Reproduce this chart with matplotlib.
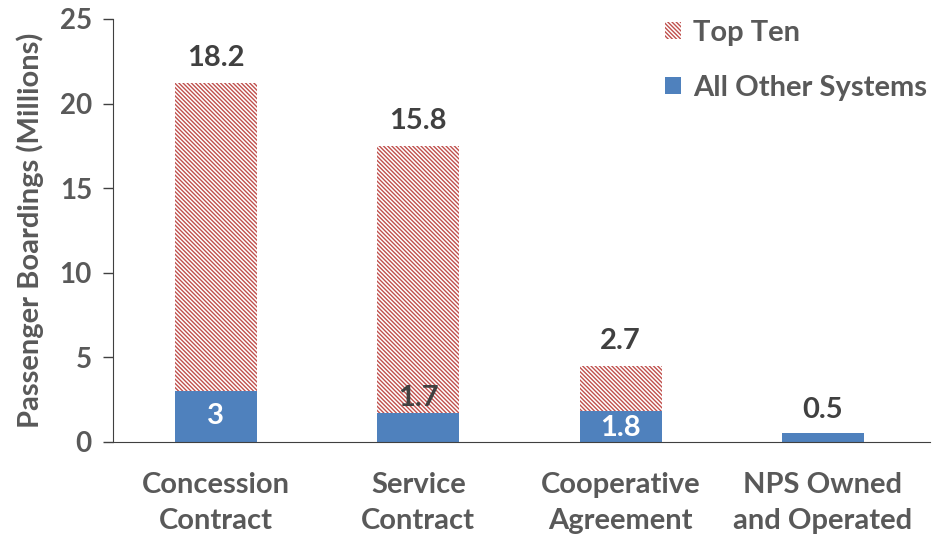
import numpy as np
import matplotlib.pyplot as plt
from matplotlib.patches import Patch

plt.rcParams['font.family'] = ['Lato', 'DejaVu Sans']
plt.rcParams['hatch.linewidth'] = 1.0

categorias = ['Concession\nContract', 'Service\nContract', 'Cooperative\nAgreement', 'NPS Owned\nand Operated']
otros = [3, 1.7, 1.8, 0.5]
top_ten = [18.2, 15.8, 2.7, 0]
etiquetas_otros = ['3', '1.7', '1.8', '0.5']
etiquetas_top = ['18.2', '15.8', '2.7', '']

gris = '#595959'
azul = '#4F81BD'
rojo = '#C0504D'
rayado = '\\' * 8

x = np.arange(len(categorias))

fig = plt.figure(figsize=(9.32, 5.42), dpi=100)
ax = fig.add_axes([0.121, 0.185, 0.877, 0.78])

ax.bar(x, otros, width=0.405, color=azul)
ax.bar(x, top_ten, width=0.405, bottom=otros, color='white', edgecolor=rojo,
       hatch=rayado, linewidth=0)

# etiquetas de arriba
for i in range(len(x)):
    total = otros[i] + top_ten[i]
    if etiquetas_top[i]:
        ax.text(x[i], total + 0.7, etiquetas_top[i], ha='center', va='bottom',
                fontsize=21, fontweight='bold', color='#404040')
# etiquetas de la serie de abajo
ax.text(x[0], otros[0] / 2, etiquetas_otros[0], ha='center', va='center',
        fontsize=21, fontweight='bold', color='white')
ax.text(x[1], otros[1] + 0.1, etiquetas_otros[1], ha='center', va='bottom',
        fontsize=21, fontweight='bold', color='#404040')
ax.text(x[2], otros[2] / 2 - 0.1, etiquetas_otros[2], ha='center', va='center',
        fontsize=21, fontweight='bold', color='white')
ax.text(x[3], otros[3] + 0.6, etiquetas_otros[3], ha='center', va='bottom',
        fontsize=21, fontweight='bold', color='#404040')

ax.set_xlim(-0.51, 3.53)
ax.set_ylim(0, 25)
ax.set_yticks([0, 5, 10, 15, 20, 25])
ax.set_xticks(x)
ax.set_xticklabels(categorias, fontsize=21, fontweight='bold', color=gris, linespacing=1.45)
ax.tick_params(axis='x', length=0, pad=22)
ax.tick_params(axis='y', length=7, width=1, color='#404040', labelsize=20, labelcolor=gris, pad=8)
for lbl in ax.get_yticklabels():
    lbl.set_fontweight('bold')

ax.spines['top'].set_visible(False)
ax.spines['right'].set_visible(False)
ax.spines['left'].set_color('#404040')
ax.spines['bottom'].set_color('#404040')

ax.set_ylabel('Passenger Boardings (Millions)', fontsize=21, fontweight='bold', color=gris, labelpad=11)

handles = [Patch(facecolor='white', edgecolor=rojo, hatch=rayado, linewidth=0),
           Patch(facecolor=azul)]
ax.legend(handles, ['Top Ten', 'All Other Systems'], loc='upper right', frameon=False,
          prop={'size': 21, 'weight': 'bold'}, labelcolor=gris, handlelength=0.55,
          handleheight=0.55, handletextpad=0.4, labelspacing=1.0,
          bbox_to_anchor=(1.028, 1.06))

plt.savefig('out.png', dpi=100)
